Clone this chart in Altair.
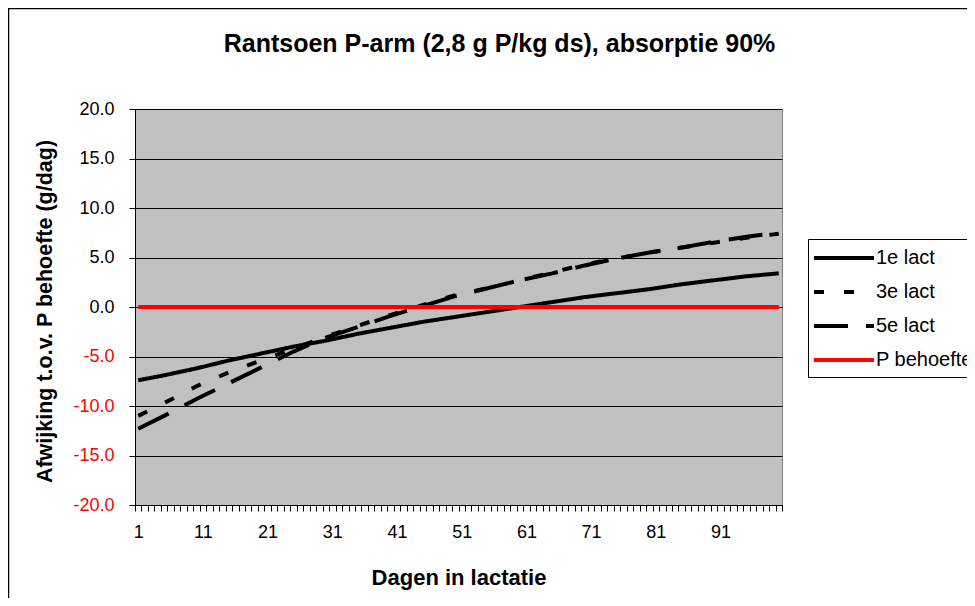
import altair as alt
import pandas as pd

# ---- data ----
DAYS = [1, 5, 10, 15, 20, 25, 30, 35, 40, 45, 50, 55, 60, 65, 70, 75, 80, 85, 90, 95, 100]
LACT1 = [-7.4, -6.9, -6.2, -5.4, -4.7, -4.0, -3.4, -2.7, -2.1, -1.5, -1.0,
         -0.5, 0.0, 0.5, 1.0, 1.4, 1.8, 2.3, 2.7, 3.1, 3.4]
LACT3 = [-11.0, -9.7, -8.0, -6.6, -5.4, -4.2, -3.0, -1.9, -0.8, 0.2, 1.2,
         1.9, 2.7, 3.5, 4.3, 4.9, 5.5, 6.0, 6.5, 7.0, 7.4]
LACT5 = [-12.3, -11.0, -9.3, -7.7, -6.1, -4.5, -3.1, -2.0, -0.9, 0.1, 1.1,
         1.9, 2.7, 3.4, 4.2, 4.9, 5.5, 6.0, 6.6, 7.1, 7.5]
REQ_DAYS = [1, 100]
REQ = [0.0, 0.0]

SERIES = ["1e lact", "3e lact", "5e lact", "P behoefte"]
COLORS = ["black", "black", "black", "red"]
DASHES = [[1, 0], [10, 20], [34, 18], [1, 0]]

DAY_LABELS = [1, 11, 21, 31, 41, 51, 61, 71, 81, 91]
Y_TICKS = [-20, -15, -10, -5, 0, 5, 10, 15, 20]

rows = []
for name, days, vals in [(SERIES[0], DAYS, LACT1), (SERIES[1], DAYS, LACT3),
                         (SERIES[2], DAYS, LACT5), (SERIES[3], REQ_DAYS, REQ)]:
    for d, v in zip(days, vals):
        rows.append({"serie": name, "dag": d, "waarde": v})
df = pd.DataFrame(rows)

W, H = 647, 396
PAD_L, PAD_T = 127, 101
TOTAL_W, TOTAL_H = 959, 590

FONT = "Liberation Sans"

x_tick_values = [0.5 + i for i in range(101)]
label_set = ",".join(str(v) for v in DAY_LABELS)

lines = alt.Chart(df).mark_line(strokeWidth=4, strokeCap="butt").encode(
    x=alt.X("dag:Q",
            scale=alt.Scale(domain=[0.5, 100.5], nice=False, zero=False),
            axis=alt.Axis(values=x_tick_values,
                          labelExpr="indexof([" + label_set + "], datum.value + 0.5) >= 0 ? '' + (datum.value + 0.5) : ''",
                          labelOffset=3.2, labelOverlap=False, labelFlush=False,
                          labelFontSize=18, labelFont=FONT, labelColor="black",
                          labelPadding=12,
                          tickSize=6, tickColor="black", domainColor="black",
                          grid=False,
                          title="Dagen in lactatie", titleFont=FONT,
                          titleFontSize=22, titleFontWeight="bold",
                          titleColor="black", titleY=72, titleBaseline="middle")),
    y=alt.Y("waarde:Q",
            scale=alt.Scale(domain=[-20, 20], nice=False, zero=False),
            axis=alt.Axis(values=Y_TICKS,
                          labelExpr="(datum.value < 0 ? '-' : '') + format(abs(datum.value), '.1f')",
                          labelColor={"expr": "datum.value < 0 ? 'red' : 'black'"},
                          labelFontSize=18, labelFont=FONT, labelPadding=15,
                          tickSize=6, tickColor="black", domainColor="black",
                          grid=True, gridColor="black", gridWidth=1,
                          title="Afwijking t.o.v. P behoefte (g/dag)",
                          titleFont=FONT, titleFontSize=21.5, titleFontWeight="bold",
                          titleColor="black", titleAngle=-90, titleX=-90, titleY=202,
                          titleBaseline="middle", titleAlign="center")),
    color=alt.Color("serie:N", scale=alt.Scale(domain=SERIES, range=COLORS),
                    legend=alt.Legend(title=None)),
    strokeDash=alt.StrokeDash("serie:N", scale=alt.Scale(domain=SERIES, range=DASHES),
                              legend=alt.Legend(title=None)),
    order=alt.Order("dag:Q"),
)

frame = alt.Chart(pd.DataFrame({"k": [0]})).mark_rect(
    fillOpacity=0, stroke="black", strokeWidth=1.5
).encode(
    x=alt.value(-126.5), x2=alt.value(3000),
    y=alt.value(-100.5), y2=alt.value(3000),
)

chart = alt.layer(frame, lines).properties(
    width=W, height=H,
    background="white",
    autosize=alt.AutoSizeParams(type="none"),
    padding={"left": PAD_L, "top": PAD_T, "right": TOTAL_W - PAD_L - W,
             "bottom": TOTAL_H - PAD_T - H},
    title=alt.TitleParams("Rantsoen P-arm (2,8 g P/kg ds), absorptie 90%",
                          font=FONT, fontSize=25, fontWeight="bold", color="black",
                          anchor="middle", frame="group", dx=41, offset=-69,
                          baseline="alphabetic"),
).configure_view(
    fill="#C0C0C0", stroke="#808080", strokeWidth=1
).configure_legend(
    orient="none", legendX=673, legendY=130,
    strokeColor="black", fillColor="white", padding=7,
    symbolType="M-3,0H3", symbolSize=400, symbolStrokeWidth=4, symbolOffset=17,
    labelFontSize=20, labelFont=FONT, labelColor="black", labelOffset=20,
    rowPadding=12, cornerRadius=0,
)

chart.save("out.html", embed_options={"renderer": "svg", "actions": False})
